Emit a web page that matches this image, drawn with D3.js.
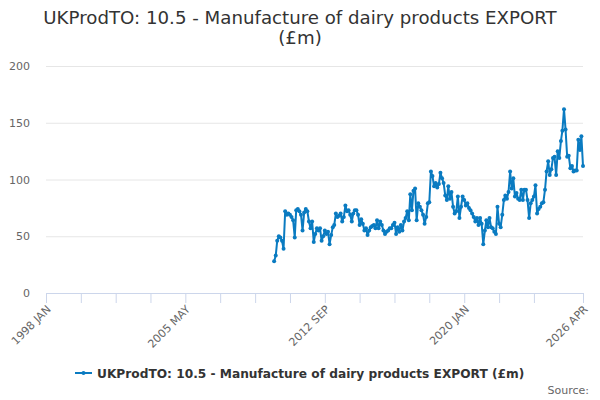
<!DOCTYPE html>
<html>
<head>
<meta charset="utf-8">
<script src="https://cdn.jsdelivr.net/npm/d3@7"></script>
<style>
  body { margin: 0; background: #fff; }
  svg { font-family: "DejaVu Sans", sans-serif; }
</style>
</head>
<body>
<svg id="chart" width="600" height="400"></svg>
<script>
// monthly values, 2010 JAN .. 2026 APR
const seriesName = 'UKProdTO: 10.5 - Manufacture of dairy products EXPORT (£m)';
const firstMonth = '2010-01';
const values = [
  28, 33, 46, 50, 49, 46, 39, 72, 69, 70, 69, 67, 64, 49, 73, 74, 72, 69, 55, 71,
  74, 72, 63, 57, 63, 45, 52, 57, 55, 57, 46, 50, 55, 52, 54, 43, 51, 58, 60, 70,
  67, 68, 70, 63, 67, 77, 72, 73, 69, 63, 70, 73, 73, 69, 60, 65, 61, 55, 57, 51,
  55, 58, 59, 60, 57, 64, 57, 63, 60, 55, 52, 54, 55, 57, 57, 60, 62, 52, 58, 54,
  60, 55, 63, 66, 72, 64, 87, 73, 90, 92, 64, 79,
  76, 73, 69, 61, 67, 79, 80, 107, 103, 94, 97, 93, 96, 106, 101, 97, 86, 82, 94, 83,
  89, 76, 70, 72, 85, 66, 76, 85, 82, 77, 79, 75, 73, 70, 67, 63, 66, 60, 66, 61,
  43, 55, 64, 58, 66, 58, 57, 54, 52, 76, 61, 58, 69, 82, 86, 83, 89, 107, 92, 101,
  85, 88, 83, 82, 91, 82, 91, 91, 82, 66, 79, 82, 85, 95, 70, 74, 76, 79, 80, 91,
  107, 116, 104, 109, 119, 120, 104, 125, 119, 134, 143, 162, 144, 120, 121, 110, 112, 107, 108, 108,
  135, 126, 138, 112
];
const yTicks = [0, 50, 100, 150, 200];
const xStart = '1998-01';
const xEnd = '2026-04';
const tickStepMonths = 22;
const labelEvery = 4;
const monthNames = ['JAN','FEB','MAR','APR','MAY','JUN','JUL','AUG','SEP','OCT','NOV','DEC'];

const parseMonth = d3.timeParse('%Y-%m');
const start = parseMonth(firstMonth);
const data = values.map((v, i) => ({ date: d3.timeMonth.offset(start, i), value: v }));

const svg = d3.select('#chart');
const margin = { left: 46, right: 17, top: 66, bottom: 107 };
const W = 600, H = 400;

const x = d3.scaleTime()
  .domain([parseMonth(xStart), parseMonth(xEnd)])
  .range([margin.left, W - margin.right]);
const y = d3.scaleLinear()
  .domain([0, 200])
  .range([H - margin.bottom, margin.top]);

// title
svg.append('text')
  .attr('x', 300).attr('y', 24)
  .attr('text-anchor', 'middle')
  .style('font-size', '18.2px').style('fill', '#333')
  .text('UKProdTO: 10.5 - Manufacture of dairy products EXPORT');
svg.append('text')
  .attr('x', 300).attr('y', 44)
  .attr('text-anchor', 'middle')
  .style('font-size', '18.2px').style('fill', '#333')
  .text('(£m)');

// y grid + labels
const yAxis = svg.append('g')
  .attr('transform', `translate(${margin.left},0)`)
  .call(d3.axisLeft(y).tickValues(yTicks).tickSize(-(W - margin.left - margin.right)).tickPadding(16));
yAxis.select('.domain').remove();
yAxis.selectAll('.tick line').attr('stroke', '#e6e6e6');
yAxis.selectAll('.tick text')
  .style('font-size', '11px').style('fill', '#666')
  .style('font-family', '"DejaVu Sans", sans-serif');

// x axis
const tickDates = [];
for (let d = parseMonth(xStart); d < d3.timeMonth.offset(parseMonth(xEnd), -tickStepMonths); d = d3.timeMonth.offset(d, tickStepMonths)) {
  tickDates.push(d);
}
tickDates.push(parseMonth(xEnd));
const fmt = d => d.getFullYear() + ' ' + monthNames[d.getMonth()];
const xAxis = svg.append('g')
  .attr('transform', `translate(0,${H - margin.bottom})`)
  .call(d3.axisBottom(x).tickValues(tickDates).tickSize(10)
    .tickFormat((d, i) => (i % labelEvery === 0 || i === tickDates.length - 1) ? fmt(d) : ''));
xAxis.select('.domain').attr('stroke', '#ccd6eb');
xAxis.selectAll('.tick line').attr('stroke', '#ccd6eb');
xAxis.selectAll('.tick text')
  .style('font-size', '11px').style('fill', '#666')
  .style('font-family', '"DejaVu Sans", sans-serif')
  .attr('text-anchor', 'end')
  .attr('dy', null)
  .attr('y', 0)
  .attr('transform', 'translate(5,17) rotate(-45)');

// series
const color = '#0a7bc1';
const line = d3.line().x(d => x(d.date)).y(d => y(d.value));
svg.append('path')
  .datum(data)
  .attr('fill', 'none')
  .attr('stroke', color)
  .attr('stroke-width', 2)
  .attr('stroke-linejoin', 'round')
  .attr('d', line);
svg.append('g').selectAll('circle')
  .data(data)
  .enter().append('circle')
  .attr('cx', d => x(d.date))
  .attr('cy', d => y(d.value))
  .attr('r', 2)
  .attr('fill', color);

// legend
const legend = svg.append('g').attr('transform', 'translate(0,373)');
legend.append('line')
  .attr('x1', 75).attr('x2', 92).attr('y1', 0).attr('y2', 0)
  .attr('stroke', color).attr('stroke-width', 2);
legend.append('circle').attr('cx', 83.5).attr('cy', 0).attr('r', 2).attr('fill', color);
legend.append('text')
  .attr('x', 97).attr('y', 4.5)
  .style('font-size', '12.2px').style('font-weight', 'bold').style('fill', '#333')
  .text(seriesName);

svg.append('text')
  .attr('x', 589).attr('y', 394)
  .attr('text-anchor', 'end')
  .style('font-size', '11px').style('fill', '#666')
  .text('Source:');
</script>
</body>
</html>
